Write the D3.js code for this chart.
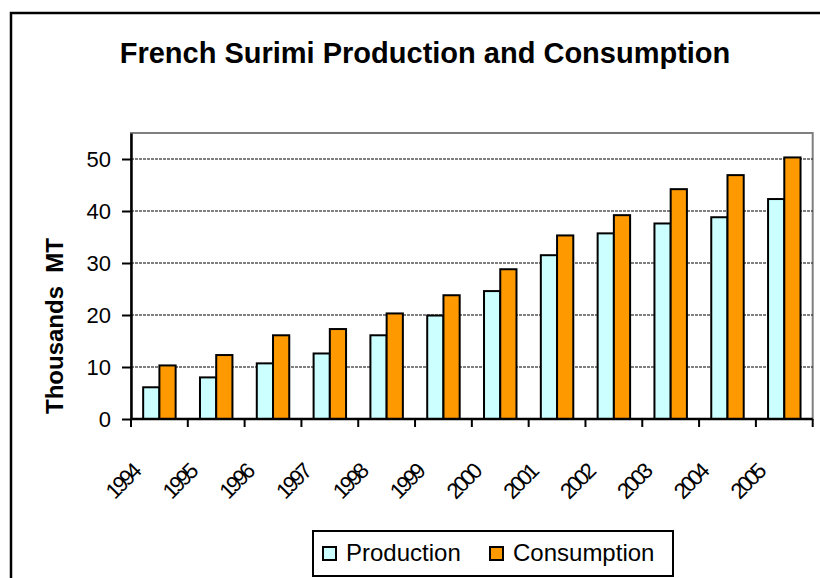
<!DOCTYPE html>
<html>
<head>
<meta charset="utf-8">
<script src="https://d3js.org/d3.v7.min.js"></script>
<style>
  body { margin: 0; background: #fff; }
  svg { display: block; font-family: "Liberation Sans", Arial, sans-serif; }
</style>
</head>
<body>
<div id="chart"></div>
<script>
  // values (thousands MT)
  var years = ["1994", "1995", "1996", "1997", "1998", "1999", "2000", "2001", "2002", "2003", "2004", "2005"];
  var production = [6.1, 8.0, 10.7, 12.6, 16.1, 19.9, 24.6, 31.5, 35.7, 37.6, 38.8, 42.3];
  var consumption = [10.3, 12.3, 16.1, 17.3, 20.3, 23.8, 28.8, 35.3, 39.2, 44.2, 46.9, 50.3];
  var seriesNames = ["Production", "Consumption"];
  var yTicks = [0, 10, 20, 30, 40, 50];

  var width = 820, height = 578,
    plot = {left: 131, right: 812.7, top: 133, bottom: 419},
    colors = {"Production": "#CCFFFF", "Consumption": "#FF9900"};

  var svg = d3.select("#chart").append("svg")
    .attr("width", width).attr("height", height);

  // outer chart frame (runs off the right/bottom edge)
  svg.append("rect")
    .attr("x", 11).attr("y", 13)
    .attr("width", 830).attr("height", 600)
    .attr("fill", "#fff").attr("stroke", "#000").attr("stroke-width", 2.5);

  svg.append("text")
    .attr("x", 425).attr("y", 63)
    .attr("text-anchor", "middle")
    .attr("font-size", 29).attr("font-weight", "bold")
    .text("French Surimi Production and Consumption");

  var y = d3.scaleLinear().domain([0, 55]).range([plot.bottom, plot.top]);

  var x0 = d3.scaleBand().domain(years)
    .range([plot.left, plot.right])
    .paddingInner(0.75 / 1.75).paddingOuter(0.75 / 3.5);

  var x1 = d3.scaleBand().domain(seriesNames).range([0, x0.bandwidth()]);

  var xb = d3.scaleLinear().domain([0, years.length]).range([plot.left, plot.right]);

  // plot area border
  svg.append("rect")
    .attr("x", plot.left).attr("y", plot.top)
    .attr("width", plot.right - plot.left).attr("height", plot.bottom - plot.top)
    .attr("fill", "none").attr("stroke", "#808080").attr("stroke-width", 2);

  // gridlines
  svg.append("g").selectAll("line")
    .data(yTicks.filter(function (d) { return d > 0; }))
    .enter().append("line")
    .attr("x1", plot.left).attr("x2", plot.right)
    .attr("y1", function (d) { return y(d); }).attr("y2", function (d) { return y(d); })
    .attr("stroke", "#000").attr("stroke-width", 1.2).attr("stroke-dasharray", "3,1");

  // bars
  var rows = years.map(function (yr, i) {
    return {year: yr, values: [
      {key: "Production", value: production[i]},
      {key: "Consumption", value: consumption[i]}
    ]};
  });

  svg.append("g").selectAll("g")
    .data(rows)
    .enter().append("g")
    .attr("transform", function (d) { return "translate(" + x0(d.year) + ",0)"; })
    .selectAll("rect")
    .data(function (d) { return d.values; })
    .enter().append("rect")
    .attr("x", function (d) { return x1(d.key); })
    .attr("y", function (d) { return y(d.value); })
    .attr("width", x1.bandwidth())
    .attr("height", function (d) { return y(0) - y(d.value); })
    .attr("fill", function (d) { return colors[d.key]; })
    .attr("stroke", "#000").attr("stroke-width", 2);

  // y axis
  var yAxis = svg.append("g")
    .attr("transform", "translate(" + plot.left + ",0)")
    .call(d3.axisLeft(y).tickValues(yTicks).tickSize(9).tickSizeOuter(0).tickPadding(11));
  yAxis.select(".domain").attr("stroke", "#000").attr("stroke-width", 2.5);
  yAxis.selectAll(".tick line").attr("stroke", "#000").attr("stroke-width", 2);
  yAxis.selectAll(".tick text")
    .attr("font-size", 22).attr("fill", "#000")
    .attr("font-family", "Liberation Sans, Arial, sans-serif");

  // x axis
  svg.append("line")
    .attr("x1", plot.left).attr("x2", plot.right)
    .attr("y1", y(0)).attr("y2", y(0))
    .attr("stroke", "#000").attr("stroke-width", 2.5);

  svg.append("g").selectAll("line")
    .data(d3.range(years.length + 1))
    .enter().append("line")
    .attr("x1", function (d) { return xb(d); }).attr("x2", function (d) { return xb(d); })
    .attr("y1", y(0)).attr("y2", y(0) + 8)
    .attr("stroke", "#000").attr("stroke-width", 2);

  svg.append("g").selectAll("text")
    .data(years)
    .enter().append("text")
    .attr("transform", function (d, i) {
      return "translate(" + (xb(i) + 10) + "," + 474 + ") rotate(-45)";
    })
    .attr("text-anchor", "end")
    .attr("font-size", 22)
    .attr("letter-spacing", -3)
    .text(function (d) { return d; });

  // y axis title
  svg.append("text")
    .attr("transform", "translate(63,326) rotate(-90)")
    .attr("text-anchor", "middle")
    .attr("font-size", 24).attr("font-weight", "bold")
    .attr("xml:space", "preserve")
    .text("Thousands  MT");

  // legend
  var legend = svg.append("g");
  legend.append("rect")
    .attr("x", 313).attr("y", 531)
    .attr("width", 360).attr("height", 45)
    .attr("fill", "#fff").attr("stroke", "#000").attr("stroke-width", 2);

  var legendX = {"Production": 323, "Consumption": 490};
  var items = legend.selectAll("g.item")
    .data(seriesNames)
    .enter().append("g").attr("class", "item")
    .attr("transform", function (d) { return "translate(" + legendX[d] + ",547)"; });
  items.append("rect")
    .attr("width", 13).attr("height", 13)
    .attr("fill", function (d) { return colors[d]; })
    .attr("stroke", "#000").attr("stroke-width", 2);
  items.append("text")
    .attr("x", 23).attr("y", 14)
    .attr("font-size", 24)
    .text(function (d) { return d; });
</script>
</body>
</html>
